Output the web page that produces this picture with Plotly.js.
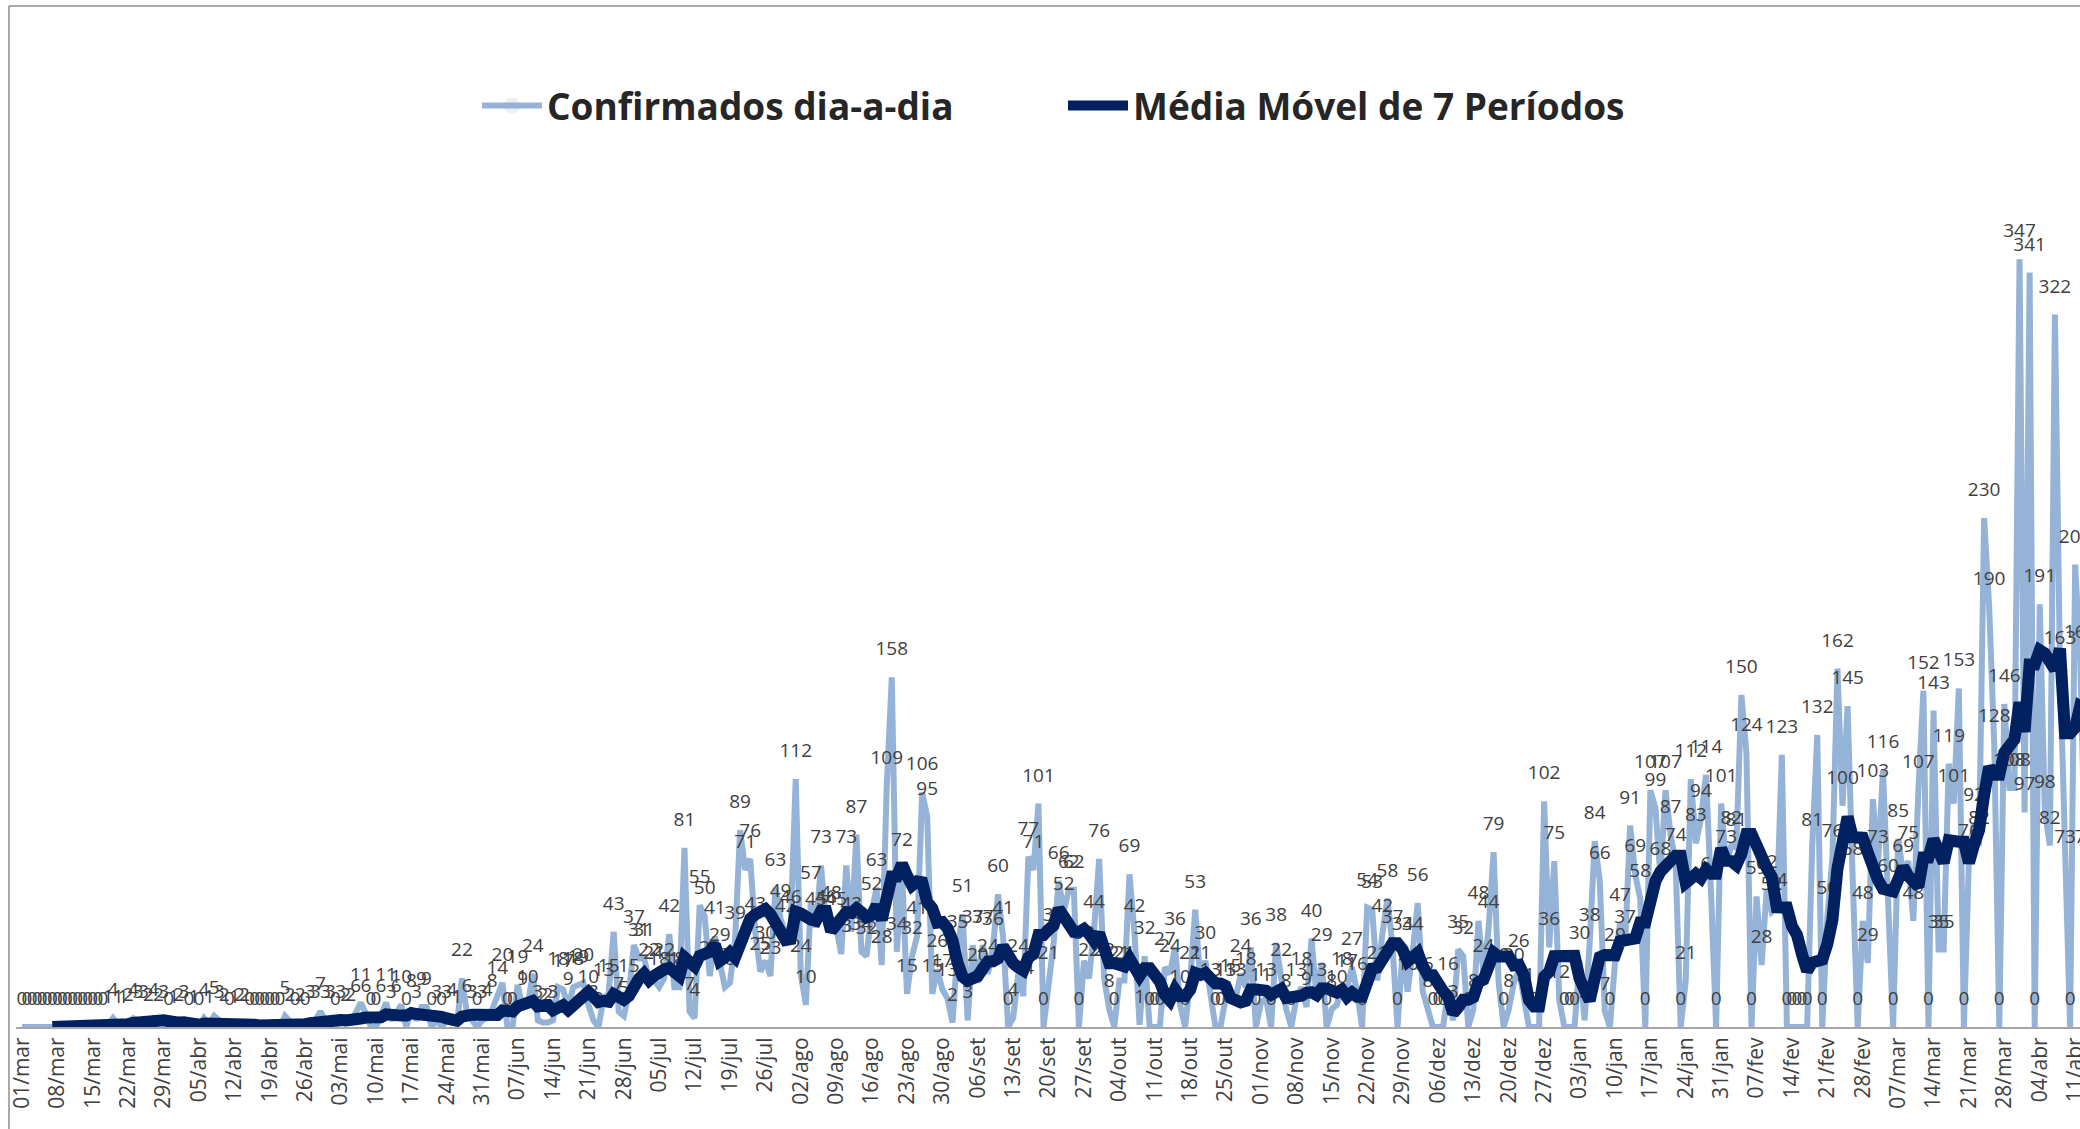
<!DOCTYPE html>
<html>
<head>
<meta charset="utf-8">
<script src="https://cdn.plot.ly/plotly-3.0.1.min.js"></script>
<style>
  html, body { margin: 0; padding: 0; background: #ffffff; }
  #chart { width: 2080px; height: 1129px; }
</style>
</head>
<body>
<div id="chart"></div>
<script>
// Daily confirmed cases, one array per month
const mar20 = [0,0,0,0,0,0,0, 0,0,0,0,0,0,0, 0,0,0,1,4,1,1, 2,4,3,3,2,4,2, 3,0,1];
const abr20 = [2,3,0,1, 0,4,1,5,3,2,0, 1,2,2,0,0,0,0, 0,0,0,5,2,0,2, 0,3,3,7,3];
const mai20 = [3,0, 3,2,2,6,11,6,0, 0,6,11,3,6,10,0, 8,3,9,9,0,3,0, 3,4,1,22,6,3,0, 3];
const jun20 = [4,8,14,20,0,0, 19,9,10,24,3,2,2, 3,18,17,9,18,19,20, 10,3,0,13,15,43,7, 5,15,37];
const jul20 = [31,31,22,21, 18,22,42,18,18,81,7, 4,55,50,23,41,29,18, 20,39,89,71,76,43,25, 30,23,63,49,42,46];
const ago20 = [112, 24,10,57,45,73,46,48, 45,33,73,43,87,34,32, 52,63,28,109,158,34,72, 15,32,41,106,95,15,26, 17,13];
const set20 = [2,35,51,3,37, 20,37,24,36,60,41,0, 4,24,14,77,71,101,0, 21,38,66,52,62,62,0, 30,22,44,76];
const out20 = [22,8,0, 21,21,69,42,1,32,0, 0,0,27,24,36,10,0, 21,53,21,30,13,0,0, 13,15,13,24,18,36,0];
const nov20 = [11,13,0,38,22,8,0, 13,18,9,40,13,29,0, 8,10,18,17,27,16,0, 54,53,21,42,58,37,0, 34,16];
const dez20 = [34,56,16,8,0, 0,0,16,3,35,32,0, 8,48,24,44,79,20,0, 8,20,26,11,0,0,0, 102,36,75,12,0];
const jan21 = [0,0, 30,3,38,84,66,7,0, 29,47,37,91,69,58,0, 107,99,68,107,87,74,0, 21,112,83,94,114,61,0, 101];
const fev21 = [73,82,81,150,124,0, 59,28,62,52,54,123,0, 0,0,0,0,81,132,0, 50,76,162,100,145,68,0, 48];
const mar21 = [29,103,73,116,60,0, 85,69,75,48,107,152,0, 143,35,35,119,101,153,0, 76,92,82,230,190,128,0, 146,108,108,347];
const abr21 = [97,341,0,191,98,82,322,163,73,0,209,166,73];

// Weekly tick labels (every 7 days starting 01/mar)
const tickLabels = ["01/mar","08/mar","15/mar","22/mar","29/mar","05/abr","12/abr","19/abr","26/abr",
  "03/mai","10/mai","17/mai","24/mai","31/mai","07/jun","14/jun","21/jun","28/jun",
  "05/jul","12/jul","19/jul","26/jul","02/ago","09/ago","16/ago","23/ago","30/ago",
  "06/set","13/set","20/set","27/set","04/out","11/out","18/out","25/out",
  "01/nov","08/nov","15/nov","22/nov","29/nov","06/dez","13/dez","20/dez","27/dez",
  "03/jan","10/jan","17/jan","24/jan","31/jan","07/fev","14/fev","21/fev","28/fev",
  "07/mar","14/mar","21/mar","28/mar","04/abr","11/abr"];

const seriesNames = ["Confirmados dia-a-dia", "Média Móvel de 7 Períodos"];

// ---- build traces ----
const daily = [].concat(mar20, abr20, mai20, jun20, jul20, ago20, set20, out20, nov20, dez20, jan21, fev21, mar21, abr21);
const dayIndex = daily.map((_, i) => i);
const movingAvg = daily.map((v, i) => i < 6 ? null : daily.slice(i - 6, i + 1).reduce((a, b) => a + b, 0) / 7);
const tickVals = tickLabels.map((_, i) => i * 7);

const W = 2080, H = 1129;
const mL = 16, mR = 0, mT = 142, mB = 102;
const pxPerDay = 5.057;
const firstPx = 22;
const xStart = (mL - firstPx) / pxPerDay;
const xEnd = xStart + (W - mL - mR) / pxPerDay;
const plotH = H - mT - mB;
const toPaperX = px => (px - mL) / (W - mL - mR);
const toPaperY = py => (H - mB - py) / plotH;

const FONT = "'Open Sans', 'DejaVu Sans', sans-serif";

const traceDaily = {
  x: dayIndex, y: daily,
  name: seriesNames[0],
  type: "scatter",
  mode: "lines+markers+text",
  line: { color: "#95B3D7", width: 6 },
  marker: { size: 26, opacity: 0, color: "#95B3D7" },
  text: daily.map(String),
  textposition: "top center",
  textfont: { family: FONT, size: 19, color: "#404040" },
  hoverinfo: "skip",
  legend: "legend"
};
const traceMA = {
  x: dayIndex, y: movingAvg,
  name: seriesNames[1],
  type: "scatter",
  mode: "lines",
  line: { color: "#002060", width: 12 },
  hoverinfo: "skip",
  legend: "legend2"
};

const borderColor = "#8C8C8C";
const legendFont = { family: FONT, size: 37, color: "#262626", weight: "bold" };
const layout = {
  width: W, height: H,
  margin: { l: mL, r: mR, t: mT, b: mB, pad: 0 },
  paper_bgcolor: "#ffffff",
  plot_bgcolor: "#ffffff",
  showlegend: true,
  legend: {
    orientation: "h", x: toPaperX(477), xanchor: "left", y: toPaperY(106), yanchor: "middle",
    font: legendFont, bgcolor: "rgba(0,0,0,0)", itemwidth: 60
  },
  legend2: {
    orientation: "h", x: toPaperX(1063), xanchor: "left", y: toPaperY(106), yanchor: "middle",
    font: legendFont, bgcolor: "rgba(0,0,0,0)", itemwidth: 60
  },
  xaxis: {
    range: [xStart, xEnd],
    tickmode: "array", tickvals: tickVals, ticktext: tickLabels,
    tickangle: -90,
    ticklabeloverflow: "allow",
    tickfont: { family: FONT, size: 21, color: "#404040" },
    showgrid: false, zeroline: false,
    showline: true, linecolor: "#A6A6A6", linewidth: 2,
    ticks: "", layer: "below traces", fixedrange: true
  },
  yaxis: {
    range: [0, 400], visible: false, showgrid: false, zeroline: false, fixedrange: true
  },
  shapes: [
    { type: "line", xref: "paper", yref: "paper", x0: toPaperX(9), x1: toPaperX(9), y0: toPaperY(H), y1: toPaperY(6),
      line: { color: borderColor, width: 1.5 } },
    { type: "line", xref: "paper", yref: "paper", x0: toPaperX(9), x1: toPaperX(W), y0: toPaperY(6), y1: toPaperY(6),
      line: { color: borderColor, width: 1.5 } }
  ]
};

Plotly.newPlot("chart", [traceDaily, traceMA], layout, { displayModeBar: false, staticPlot: true });
</script>
</body>
</html>
